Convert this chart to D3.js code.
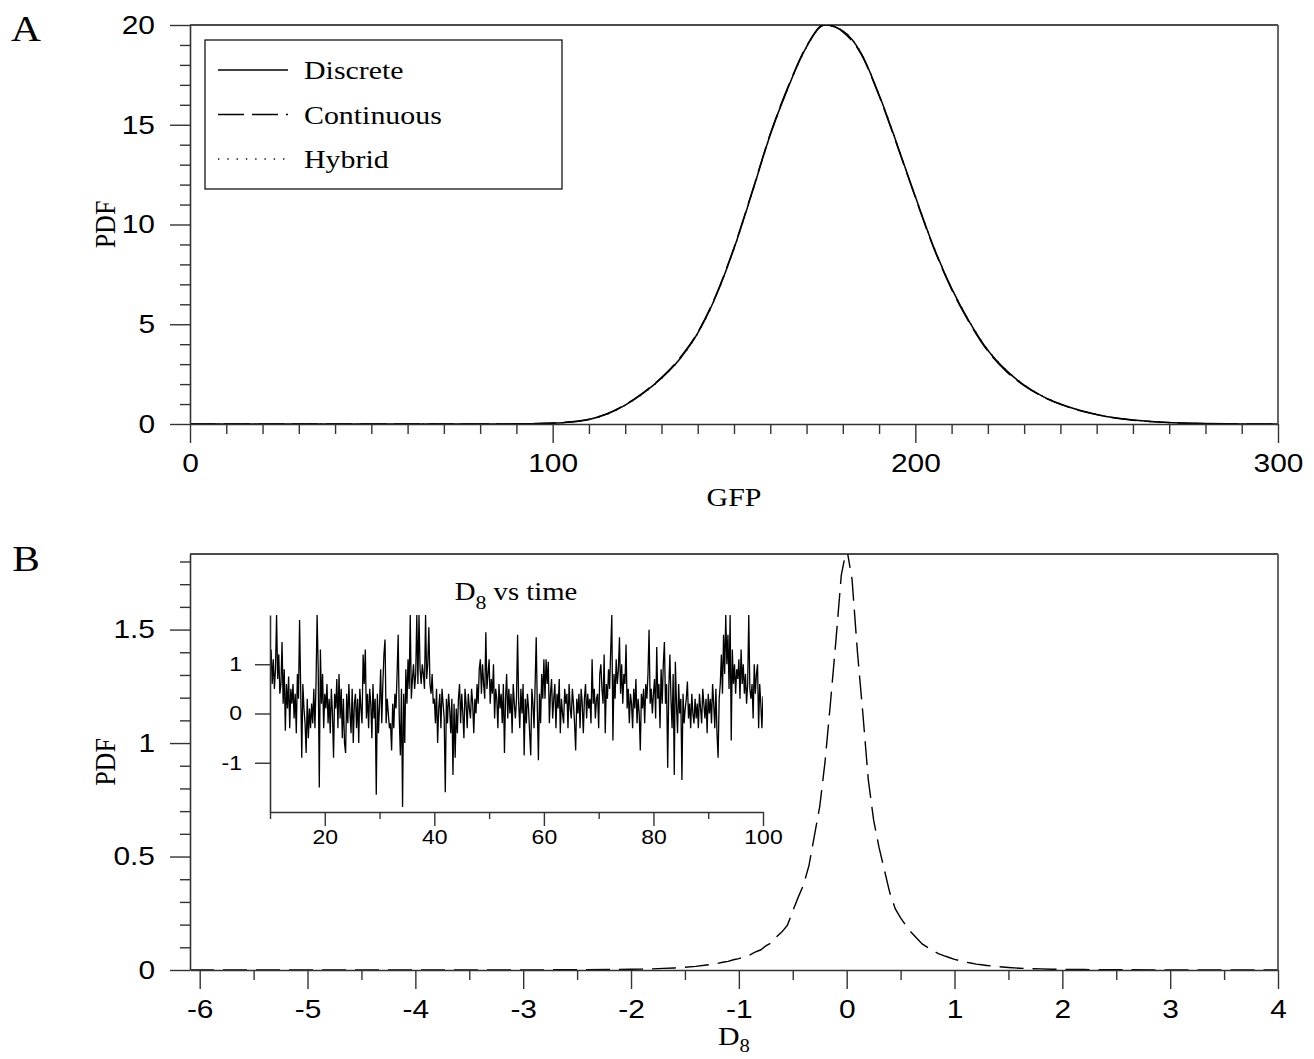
<!DOCTYPE html>
<html lang="en">
<head>
<meta charset="UTF-8">
<title>GFP and D8 PDF</title>
<style>
  body { margin: 0; background: #fff; }
  svg { display: block; background: #fff; }
</style>
</head>
<body>
<svg width="1314" height="1059" viewBox="0 0 1314 1059"></svg>
<script src="https://cdn.jsdelivr.net/npm/d3@7"></script>
<script>
// ---- panel A : GFP distribution, three simulation methods ----
var gfp = [0, 85, 90, 95, 100, 105, 110, 115, 120, 125, 130, 135, 140, 145, 150, 155, 160, 165, 170, 175,
  180, 185, 190, 195, 200, 205, 210, 215, 220, 225, 230, 235, 240, 245, 250, 255, 260, 265, 270, 275, 280, 290, 300];
var pdfDiscrete = [0, 0, 0.01, 0.02, 0.04, 0.1, 0.23, 0.5, 0.95, 1.55, 2.3, 3.25, 4.55, 6.4, 8.8, 11.6, 14.5, 16.9, 18.9, 20.0,
  19.7, 18.6, 16.5, 14.0, 11.4, 8.9, 6.8, 5.1, 3.7, 2.7, 1.95, 1.4, 1.0, 0.7, 0.48, 0.31, 0.2, 0.12, 0.07, 0.04, 0.02, 0.005, 0];
var pdfContinuous = [0, 0, 0.01, 0.02, 0.05, 0.11, 0.24, 0.52, 0.97, 1.58, 2.33, 3.3, 4.6, 6.45, 8.85, 11.65, 14.55, 16.95, 18.95, 20.05,
  19.65, 18.55, 16.45, 13.95, 11.35, 8.85, 6.75, 5.05, 3.65, 2.65, 1.92, 1.38, 0.98, 0.69, 0.47, 0.3, 0.19, 0.12, 0.07, 0.04, 0.02, 0.005, 0];
var pdfHybrid = [0, 0, 0.01, 0.02, 0.04, 0.1, 0.22, 0.49, 0.94, 1.53, 2.28, 3.23, 4.53, 6.38, 8.78, 11.58, 14.48, 16.88, 18.88, 19.98,
  19.72, 18.62, 16.52, 14.02, 11.42, 8.92, 6.82, 5.12, 3.72, 2.72, 1.96, 1.41, 1.01, 0.71, 0.48, 0.31, 0.2, 0.12, 0.07, 0.04, 0.02, 0.005, 0];
var gfpTicks = [0, 100, 200, 300];
var pdfATicks = [0, 5, 10, 15, 20];
var legendNames = ['Discrete', 'Continuous', 'Hybrid'];

// ---- panel B : distribution of D8 ----
var d8 = [-6.09, -3, -2.5, -2.2, -2.0, -1.9, -1.8, -1.7, -1.6, -1.5, -1.4, -1.3, -1.25, -1.2, -1.15, -1.1, -1.05, -1.0,
  -0.95, -0.9, -0.85, -0.8, -0.75, -0.7, -0.65, -0.6, -0.55, -0.5, -0.45, -0.4, -0.35, -0.3, -0.25, -0.2, -0.15, -0.1, -0.05,
  0, 0.05, 0.1, 0.15, 0.2, 0.25, 0.3, 0.35, 0.4, 0.45, 0.5, 0.55, 0.6, 0.65, 0.7, 0.75, 0.8, 0.85, 0.9, 0.95,
  1.0, 1.05, 1.1, 1.15, 1.2, 1.25, 1.3, 1.4, 1.5, 1.6, 1.7, 1.8, 1.9, 2.0, 2.2, 2.5, 3, 4];
var pdfD8 = [0, 0.0005, 0.001, 0.002, 0.003, 0.004, 0.005, 0.007, 0.009, 0.012, 0.016, 0.022, 0.025, 0.029, 0.034, 0.038, 0.045, 0.05,
  0.059, 0.066, 0.079, 0.088, 0.106, 0.12, 0.147, 0.168, 0.197, 0.26, 0.32, 0.375, 0.46, 0.59, 0.72, 0.92, 1.18, 1.45, 1.74,
  1.86, 1.72, 1.40, 1.13, 0.84, 0.66, 0.54, 0.44, 0.34, 0.27, 0.23, 0.195, 0.165, 0.14, 0.115, 0.10, 0.085, 0.072, 0.063, 0.055,
  0.047, 0.041, 0.035, 0.031, 0.026, 0.023, 0.02, 0.015, 0.011, 0.008, 0.006, 0.005, 0.003, 0.003, 0.002, 0.001, 0.0005, 0];
var d8Ticks = [-6, -5, -4, -3, -2, -1, 0, 1, 2, 3, 4];
var pdfBTicks = [0, 0.5, 1, 1.5];

// ---- inset : D8 vs time, sampled every 0.2 from t = 10 to 100 ----
var d8Series = [
  0.8, 1.3, 0.6, 1.1, 0.5, 0.9, 2.0, 0.7, 1.2, 0.4,
  0.6, 1.45, 0.2, 0.9, -0.35, 0.6, 0.1, 0.75, -0.3, 0.5,
  0.2, 0.6, -0.1, 0.4, -0.4, 0.8, 0.3, 1.9, 0.5, -0.9,
  0.6, 0.1, -0.2, -0.8, 0.3, -0.5, 0.1, -0.3, 0.2, -0.2,
  0.5, -0.3, 0.6, 2.0, 0.9, -1.5, 1.3, 0.2, 0.8, -0.3,
  0.4, 0.1, 0.6, -0.2, 0.3, -0.4, 0.5, 0.0, -0.9, 0.4,
  0.1, 0.7, -0.3, 0.8, -0.1, 0.5, -0.5, 0.3, -0.6, -0.8,
  0.4, -0.2, 0.6, 0.0, -0.4, 0.5, -0.6, 0.2, 0.4, -0.3,
  0.3, -0.6, 0.5, 0.1, -0.2, 1.2, 0.6, 1.3, -0.1, 0.4,
  -0.3, 0.5, 0.2, -0.5, 0.6, -0.1, 0.3, -1.65, 0.4, -0.4,
  0.2, 0.9, -0.2, 0.6, 1.2, 1.5, -0.2, 0.3, 0.0, -0.3,
  -0.2, -0.75, 0.2, -0.3, 0.4, 0.1, 0.8, 1.6, -0.1, -0.85,
  0.5, -1.9, 0.4, -0.6, 0.9, 0.2, 1.1, 0.5, 2.0, 0.3,
  0.7, 1.0, 0.5, 0.8, 2.0, 0.6, 2.0, 0.9, 0.6, 1.0,
  0.8, 0.5, 2.0, 0.7, 1.0, 1.75, 0.6, 0.4, 0.8, 0.2,
  0.3, -0.2, 0.5, -0.6, 0.1, 0.4, -0.3, 0.5, 0.2, -0.1,
  -1.6, 0.3, -0.2, 0.4, 0.1, -0.4, 0.3, -1.25, 0.2, -0.9,
  0.1, -0.4, 0.3, 0.6, -0.2, 0.4, 0.0, -0.5, 0.5, 0.2,
  -0.3, 0.4, 0.1, -0.1, 0.5, 0.2, -0.4, 0.3, 0.0, 0.6,
  0.2, 0.9, 1.1, 0.4, 1.0, 0.6, 0.3, 1.65, 0.5, 0.8,
  1.1, 0.2, 0.7, 0.4, 1.0, -0.1, 0.5, 0.3, -0.3, 0.6,
  0.1, 0.4, -0.2, 0.6, -0.8, 0.3, 0.8, -0.1, 0.5, 0.0,
  0.4, -0.4, 0.6, 0.2, -0.1, 0.3, 1.6, 0.2, -0.3, 0.5,
  0.0, 0.6, -0.85, 0.3, -0.2, 0.4, 0.1, -0.4, -0.85, 0.5,
  0.2, -0.3, 0.6, 1.55, 0.1, -0.95, 0.4, -0.2, 0.8, 0.3,
  1.1, 0.3, 1.1, 0.6, 1.05, -0.2, 0.4, 0.7, -0.1, 0.3,
  0.6, -0.3, 0.4, 0.1, 0.7, -0.4, 0.3, 0.0, -0.2, 0.5,
  0.2, 0.4, -0.3, 0.6, 0.1, -0.1, 0.5, 0.2, -0.2, -0.75,
  0.3, 0.0, 0.4, -0.3, 0.5, 0.2, -0.4, 0.3, 0.6, -0.1,
  0.4, 0.1, 0.3, -0.2, 1.1, 0.2, 0.5, -0.1, 0.3, 0.4,
  -0.3, 0.8, 1.0, 0.5, 0.2, 1.2, -0.4, 0.6, 0.3, 0.9,
  0.5, 1.3, 2.0, -0.55, 0.8, 0.3, 1.1, 0.6, 0.9, 1.55,
  0.4, 1.0, 0.2, 0.8, 0.6, 1.4, 0.1, 0.5, -0.2, 0.4,
  0.2, -0.3, 0.5, 0.1, 0.7, -0.2, 0.3, 0.0, -0.75, 0.4,
  0.1, 0.5, -0.2, 0.6, 0.3, 0.8, 1.7, 0.2, 0.5, 0.0,
  0.4, 0.7, -0.1, 1.35, 0.3, 0.6, -0.3, 0.9, 0.2, 1.0,
  1.45, 0.2, 0.6, -1.1, 0.5, 1.2, 0.3, -0.3, 0.8, -1.25,
  1.05, 0.2, -0.4, 0.6, 0.0, 0.3, -1.35, 0.4, -0.2, 0.1,
  0.3, 0.65, -0.1, 0.2, -0.3, 0.4, 0.0, -0.2, 0.3, -0.1,
  0.2, -0.3, 0.4, 0.1, -0.2, 0.5, 0.2, -0.1, 0.3, -0.4,
  0.4, 0.0, 0.3, -0.2, 0.6, 0.2, -0.3, 0.5, -0.4, -0.9,
  0.3, 0.6, 1.2, 0.4, 1.6, 0.8, 2.0, 1.0, 1.6, 0.5,
  2.0, -0.55, 1.3, 0.6, 1.0, 0.4, 0.9, 0.7, 1.1, 0.3,
  1.3, 0.6, 1.0, 0.4, 0.8, 0.2, 0.6, 2.0, 0.5, 0.3,
  0.6, -0.1, 1.0, 0.4, 0.8, 1.0, -0.3, 0.6, 0.2, -0.3,
  0.35];
var timeTicks = [20, 40, 60, 80, 100];
var insetTicks = [-1, 0, 1];

var SANS = '"Liberation Sans", Arial, Helvetica, sans-serif';
var SERIF = '"Liberation Serif", "Times New Roman", serif';
var AXIS = '#333';
var STRETCH = 1.15; // lettering in the picture is a bit wider than tall

var svg = d3.select('svg');

function label(parent, x, y, str, size, family, anchor, rotate) {
  return parent.append('text')
    .attr('transform', 'translate(' + x + ',' + y + ') scale(' + STRETCH + ',1)' + (rotate ? ' rotate(' + rotate + ')' : ''))
    .attr('text-anchor', anchor || 'middle')
    .attr('font-size', size)
    .attr('font-family', family)
    .attr('fill', '#000')
    .text(str);
}

// one set of ticks (major with labels or minor without)
function axis(orient, scale, pos, values, size, pad, fontSize, withLabels) {
  var a = (orient === 'left' ? d3.axisLeft(scale) : d3.axisBottom(scale))
    .tickValues(values)
    .tickSize(size)
    .tickSizeOuter(0)
    .tickPadding(pad)
    .tickFormat(function (d) { return withLabels ? String(d) : ''; });
  var g = svg.append('g')
    .attr('transform', orient === 'left' ? 'translate(' + pos + ',0)' : 'translate(0,' + pos + ')')
    .call(a)
    .attr('font-size', fontSize)
    .attr('font-family', SANS)
    .attr('color', AXIS);
  g.selectAll('.tick line').attr('stroke-width', 1.4);
  g.select('.domain').attr('stroke-width', 1.6);
  if (!withLabels) g.select('.domain').remove();
  g.selectAll('text').attr('fill', '#000').each(function () {
    var t = d3.select(this);
    t.attr('x', (+t.attr('x') || 0) / STRETCH).attr('transform', 'scale(' + STRETCH + ',1)');
  });
  return g;
}

function frame(x, y) {
  var x0 = x.range()[0], x1 = x.range()[1], y0 = y.range()[0], y1 = y.range()[1];
  svg.append('line').attr('x1', x0).attr('x2', x1).attr('y1', y1).attr('y2', y1)
    .attr('stroke', '#111').attr('stroke-width', 1.6);
  svg.append('line').attr('x1', x1).attr('x2', x1).attr('y1', y1).attr('y2', y0)
    .attr('stroke', '#555').attr('stroke-width', 1.8);
}

function clip(id, x, y) {
  svg.append('clipPath').attr('id', id).append('rect')
    .attr('x', x.range()[0]).attr('y', y.range()[1])
    .attr('width', x.range()[1] - x.range()[0])
    .attr('height', y.range()[0] - y.range()[1]);
}

// ================= panel A =================
var xA = d3.scaleLinear().domain([0, 300]).range([190, 1278]);
var yA = d3.scaleLinear().domain([0, 20]).range([424, 25]);
clip('clipA', xA, yA);

var lineA = d3.line()
  .x(function (d, i) { return xA(gfp[i]); })
  .y(function (d) { return yA(d); })
  .curve(d3.curveMonotoneX);

var styles = [
  { dash: null, width: 1.5 },
  { dash: '26,8', width: 1.4 },
  { dash: '1.3,8', width: 1.3 }
];
var gA = svg.append('g').attr('clip-path', 'url(#clipA)');
[pdfDiscrete, pdfContinuous, pdfHybrid].forEach(function (s, k) {
  gA.append('path').attr('d', lineA(s))
    .attr('fill', 'none').attr('stroke', '#000')
    .attr('stroke-width', styles[k].width)
    .attr('stroke-dasharray', styles[k].dash);
});

axis('bottom', xA, 424, gfpTicks, 19, 11, 26, true);
axis('bottom', xA, 424, d3.range(10, 300, 10).filter(function (v) { return v % 100; }), 10, 0, 26, false);
axis('left', yA, 190, pdfATicks, 20, 15, 26, true);
axis('left', yA, 190, d3.range(1, 20).filter(function (v) { return v % 5; }), 10, 0, 26, false);
frame(xA, yA);

// legend
var lg = svg.append('g');
lg.append('rect').attr('x', 205).attr('y', 40).attr('width', 357).attr('height', 149)
  .attr('fill', '#fff').attr('stroke', '#000').attr('stroke-width', 1.2);
legendNames.forEach(function (name, k) {
  var ly = 70 + k * 44.5;
  lg.append('line').attr('x1', 218).attr('x2', 288).attr('y1', ly).attr('y2', ly)
    .attr('stroke', '#000').attr('stroke-width', styles[k].width)
    .attr('stroke-dasharray', styles[k].dash);
  label(lg, 304, ly + 9, name, 26, SERIF, 'start');
});

label(svg, 26, 41, 'A', 36, SERIF);
label(svg, 115, 224.5, 'PDF', 26, SERIF, 'middle', -90);
label(svg, 734, 506, 'GFP', 26, SERIF);

// ================= panel B =================
var xB = d3.scaleLinear().domain([-6.09, 4]).range([190, 1278]);
var yB = d3.scaleLinear().domain([0, 1.833]).range([970, 554]);
clip('clipB', xB, yB);

var lineB = d3.line()
  .x(function (d, i) { return xB(d8[i]); })
  .y(function (d) { return yB(d); });

svg.append('g').attr('clip-path', 'url(#clipB)')
  .append('path').attr('d', lineB(pdfD8))
  .attr('fill', 'none').attr('stroke', '#000')
  .attr('stroke-width', 1.4).attr('stroke-dasharray', '24,9');

axis('bottom', xB, 970, d8Ticks, 19, 11, 26, true);
axis('bottom', xB, 970, d3.range(-5.5, 4, 1), 10, 0, 26, false);
axis('left', yB, 190, pdfBTicks, 20, 15, 26, true);
axis('left', yB, 190, d3.range(1, 19).filter(function (v) { return v % 5; }).map(function (v) { return v / 10; }), 10, 0, 26, false);
frame(xB, yB);

label(svg, 26, 571, 'B', 36, SERIF);
label(svg, 115, 762, 'PDF', 26, SERIF, 'middle', -90);
var d8Title = label(svg, 734, 1045, 'D', 26, SERIF);
d8Title.append('tspan').attr('dy', 7).attr('font-size', 18).text('8');

// ---- inset ----
var xI = d3.scaleLinear().domain([10, 100]).range([270, 763]);
var yI = d3.scaleLinear().domain([-2, 2]).range([812, 615]);
clip('clipI', xI, yI);

var lineI = d3.line()
  .x(function (d, i) { return xI(10 + i * 0.2); })
  .y(function (d) { return yI(d); });

svg.append('g').attr('clip-path', 'url(#clipI)')
  .append('path').attr('d', lineI(d8Series))
  .attr('fill', 'none').attr('stroke', '#000').attr('stroke-width', 1.3);

axis('bottom', xI, 812, timeTicks, 14, 4, 20, true);
axis('bottom', xI, 812, [10, 30, 50, 70, 90], 7, 0, 20, false);
axis('left', yI, 270, insetTicks, 15, 13, 20, true);

var insetTitle = label(svg, 516, 600, 'D', 25, SERIF);
insetTitle.append('tspan').attr('dy', 9).attr('font-size', 19).text('8');
insetTitle.append('tspan').attr('dy', -9).text(' vs time');
</script>
</body>
</html>
